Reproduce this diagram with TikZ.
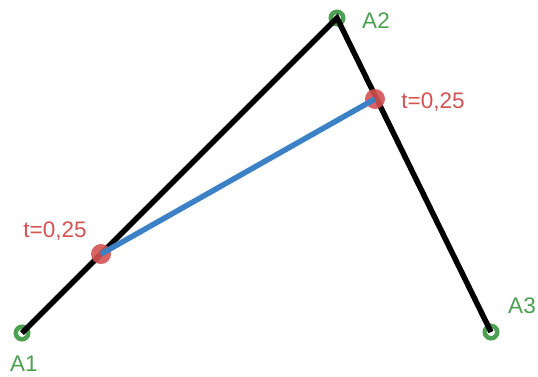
\documentclass[tikz,border=0pt]{standalone}
\usepackage{fontspec}
\setmainfont{Liberation Sans}
\usetikzlibrary{positioning}
\definecolor{ptgreen}{RGB}{76,160,82}
\definecolor{ptred}{RGB}{212,82,82}
\definecolor{segblue}{RGB}{60,128,198}

\begin{document}
\begin{tikzpicture}[x=1pt,y=-1pt,
    vertex/.style={circle,draw=ptgreen,line width=4.5pt,fill=white,
      minimum size=12.5pt,inner sep=0pt},
    tpoint/.style={circle,fill=ptred,fill opacity=0.9,minimum size=20pt,inner sep=0pt},
    vlabel/.style={text=ptgreen,inner sep=0pt,anchor=base,font=\fontsize{22.5}{26}\selectfont},
    tlabel/.style={text=ptred,inner sep=0pt,anchor=base,font=\fontsize{22.5}{26}\selectfont},
    edge/.style={line width=5.5pt,black},
    seg/.style={line width=5.5pt,draw=segblue}
  ]
    \useasboundingbox (0,0) rectangle (538,376);

    % control points
    \node[vertex] (A1) at (22,333) {};
    \node[vertex] (A2) at (337,18) {};
    \node[vertex] (A3) at (491,332) {};
    \node[vlabel] (lA1) at (24,371) {A1};
    \node[vlabel] (lA2) at (376,28) {A2};
    \node[vlabel] (lA3) at (522,313) {A3};

    \draw[edge] (A1.center) -- (A2.center) -- (A3.center);

    % points at t
    \node[tpoint] (P1) at (101,254) {};
    \node[tpoint] (P2) at (375,99) {};
    \node[tlabel] (lP1) at (55,237) {t=0,25};
    \node[tlabel] (lP2) at (433,108) {t=0,25};

    \draw[seg] (P1.center) -- (P2.center);
  \end{tikzpicture}
\end{document}
